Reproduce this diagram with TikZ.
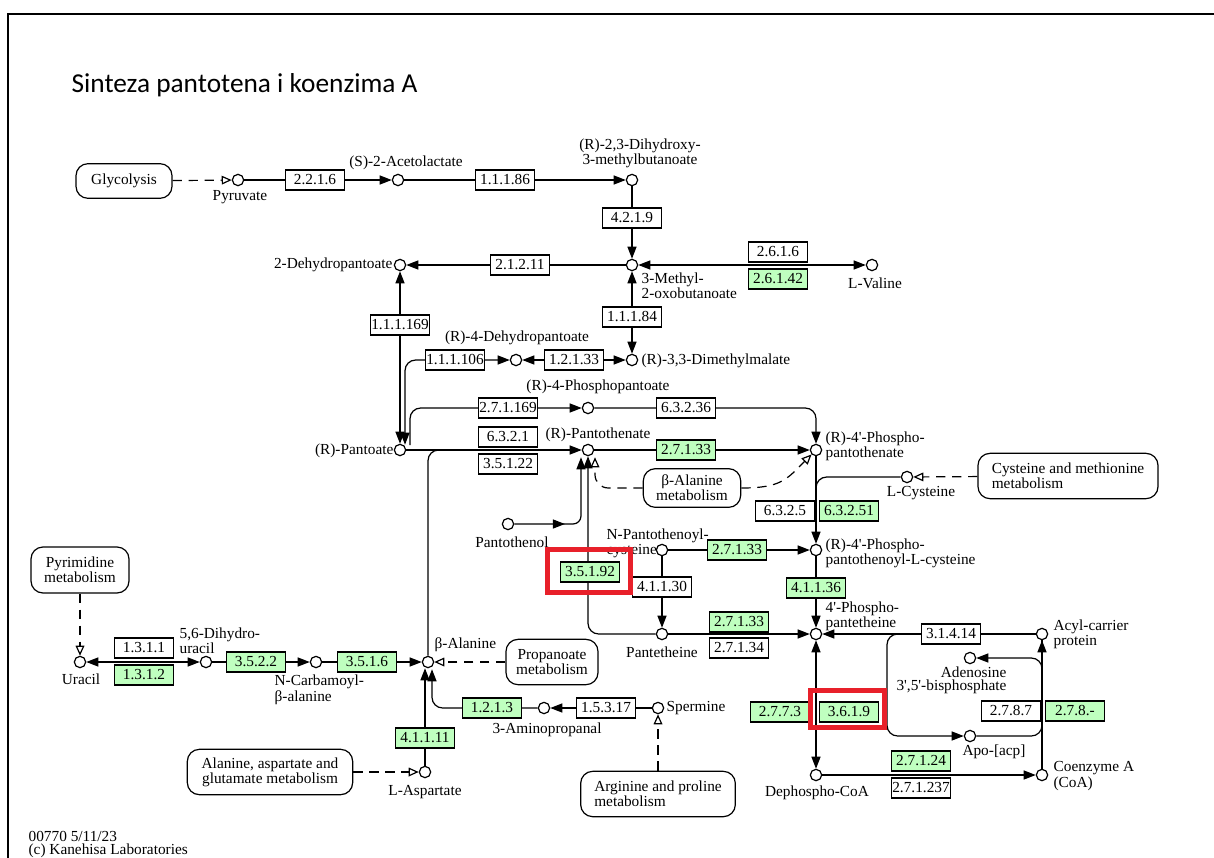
\documentclass[tikz,border=0pt]{standalone}
\usepackage{fontspec}
\setmainfont{Liberation Serif}
\newfontfamily\titlefont{Carlito}
\usepackage{xcolor}
\usepackage{tikz}
\usetikzlibrary{
	arrows.meta,calc,decorations.markings
}
\definecolor{enzgreen}{HTML}{BFFFBF}
\definecolor{hlred}{HTML}{E8202A}
\newcommand{\ap}{\textquotesingle}
\tikzset{
	kt/.tip={Triangle[length=9pt,width=6.75pt]},
	ko/.tip={Triangle[open,length=7.5pt,width=6.5pt]},
	cpd/.style={circle,draw,fill=white,minimum size=8.5pt,inner sep=0pt},
	enz/.style={draw,fill=white,minimum width=44pt,minimum height=15pt,inner sep=0pt},
	enzg/.style={enz,fill=enzgreen},
	mapbox/.style={draw,rounded corners=9pt,align=center,inner sep=0pt},
	lbl/.style={inner sep=0pt,align=center},
	arr/.style={-kt},
	barr/.style={kt-kt},
	dsh/.style={dash pattern=on 7pt off 5pt,-ko},
	hl/.style={draw=hlred,line width=3.75pt}
}

\begin{document}
\begin{tikzpicture}[x=0.75pt,y=-0.75pt,line width=0.9pt,font=\fontsize{11.5}{9.8}\selectfont]
	\useasboundingbox (0,0) rectangle (1214,857);
	\draw[line width=0.9pt] (8,14) rectangle (1240,880);
	\node[anchor=west,inner sep=0pt,font=\titlefont\fontsize{20.5}{24}\selectfont] (Title) at (71,85) {Sinteza pantotena i koenzima A};
	%
	\node[cpd] (Pyr) at (238,180) {};
	\node[cpd] (Acl) at (398,180) {};
	\node[cpd] (Dhmb) at (632,180) {};
	\node[cpd] (Mob) at (632,265) {};
	\node[cpd] (Val) at (872,265) {};
	\node[cpd] (Dhp) at (400,265) {};
	\node[cpd] (Dmm) at (632,360) {};
	\node[cpd] (Dhp4) at (516,360) {};
	\node[cpd] (Ppt) at (588,408) {};
	\node[cpd] (Pant) at (400,450) {};
	\node[cpd] (Pan) at (588,450) {};
	\node[cpd] (Ppan) at (816,450) {};
	\node[cpd] (Cys) at (907,477) {};
	\node[cpd] (Ptol) at (508,524) {};
	\node[cpd] (Npc) at (662,550) {};
	\node[cpd] (Pppc) at (816,550) {};
	\node[cpd] (Ptth) at (662,634) {};
	\node[cpd] (Pptth) at (816,634) {};
	\node[cpd] (Acp) at (1042,634) {};
	\node[cpd] (Pap) at (970,658) {};
	\node[cpd] (Apo) at (970,736) {};
	\node[cpd] (Dpc) at (816,775) {};
	\node[cpd] (CoA) at (1042,775) {};
	\node[cpd] (Ura) at (80,662) {};
	\node[cpd] (Dhu) at (206,662) {};
	\node[cpd] (Ncb) at (316,662) {};
	\node[cpd] (Bala) at (428,662) {};
	\node[cpd] (Amp) at (544,708) {};
	\node[cpd] (Spm) at (658,708) {};
	\node[cpd] (Asp) at (425,772) {};
	%
	\node[mapbox,minimum width=72pt,minimum height=26pt] (Glyc) at (124,181) {Glycolysis};
	\node[mapbox,minimum width=73pt,minimum height=29pt] (BalaM) at (692,488) {β-Alanine\\metabolism};
	\node[mapbox,align=left,minimum width=135pt,minimum height=34pt] (CysM) at (1068,476) {Cysteine and methionine\\metabolism};
	\node[mapbox,minimum width=73.5pt,minimum height=34.5pt] (PyrM) at (80,570) {Pyrimidine\\metabolism};
	\node[mapbox,minimum width=69pt,minimum height=34pt] (PropM) at (552,662) {Propanoate\\metabolism};
	\node[mapbox,minimum width=124pt,minimum height=34pt] (AlaM) at (270,772) {Alanine, aspartate and\\glutamate metabolism};
	\node[mapbox,align=left,minimum width=116pt,minimum height=34pt] (ArgM) at (658,794) {Arginine and proline\\metabolism};
	%
	\draw [dsh] (Glyc) -- (Pyr);
	\draw [arr] (Pyr) -- (Acl);
	\draw [arr] (Acl) -- (Dhmb);
	\draw [arr] (Dhmb) -- (Mob);
	\draw [arr] (Mob) -- (Dhp);
	\draw [barr] (Mob) -- (Val);
	\draw [barr] (Dmm) -- (Mob);
	\draw [barr] (Dhp) -- (Pant);
	\draw [barr,rounded corners=8pt] (Dhp4) -| ($(Pant.north)+(5,1)$);
	\draw [barr] (Dmm) -- (Dhp4);
	\draw [arr,rounded corners=8pt] ($(Pant)+(10,-5)$) |- (Ppt);
	\draw [arr,rounded corners=8pt] (Ppt) -| (Ppan);
	\draw [arr] (Pant) -- (Pan);
	\draw [arr] (Pan) -- (Ppan);
	\draw [rounded corners=8pt] (Bala) |- ($(Pant)+(42,0)$);
	\draw [arr,rounded corners=6pt,postaction={decorate},
		decoration={markings,mark=at position 38pt with {\arrow{kt}}}] (Ptol) -| ($(Pan.south)+(-7,1)$);
	\draw [arr,rounded corners=8pt] (Ptth) -| (Pan);
	\draw [dsh,rounded corners=10pt] (BalaM) -| ($(Pan.south)+(7,1)$);
	\draw [dsh] (BalaM.east) .. controls ($(BalaM.east)+(40,0)$) and ($(Ppan.225)+(-25,25)$) .. (Ppan.225);
	\draw [arr] (Ppan) -- (Pppc);
	\draw [rounded corners=8pt] (Cys) -| ($(Ppan)+(0,45)$);
	\draw [dsh] (CysM) -- (Cys);
	\draw [arr] (Npc) -- (Pppc);
	\draw [arr] (Npc) -- (Ptth);
	\draw [arr] (Pppc) -- (Pptth);
	\draw [arr] (Ptth) -- (Pptth);
	\draw [arr] (Acp) -- (Pptth);
	\draw [arr,rounded corners=8pt] ($(Acp)+(-140,0)$) -| ($(Acp)+(-155,50)$) |- (Apo);
	\draw [arr,rounded corners=8pt] (Apo) -| (Acp);
	\draw [arr,rounded corners=8pt] ($(Acp)+(0,45)$) |- (Pap);
	\draw (CoA) -- (Acp);
	\draw [barr] (Pptth) -- (Dpc);
	\draw [arr] (Dpc) -- (CoA);
	\draw [barr] (Dhu) -- (Ura);
	\draw [arr] (Dhu) -- (Ncb);
	\draw [arr] (Ncb) -- (Bala);
	\draw [dsh] (PropM) -- (Bala);
	\draw [dsh] (PyrM) -- (Ura);
	\draw [arr] (Asp) -- ($(Bala.south)+(-3,0)$);
	\draw [arr,rounded corners=8pt] (Amp) -| ($(Bala.south)+(4,1)$);
	\draw [arr] (Spm) -- (Amp);
	\draw [dsh] (ArgM) -- (Spm);
	\draw [dsh] (AlaM) -- (Asp);
	%
	\node[enz] (E2216) at (315,180) {2.2.1.6};
	\node[enz] (E11186) at (505,180) {1.1.1.86};
	\node[enz] (E4219) at (632,218) {4.2.1.9};
	\node[enz] (E21211) at (520,265) {2.1.2.11};
	\node[enz] (E2616) at (778,252) {2.6.1.6};
	\node[enzg] (E26142) at (778,279) {2.6.1.42};
	\node[enz] (E111169) at (400,325) {1.1.1.169};
	\node[enz] (E11184) at (632,317) {1.1.1.84};
	\node[enz] (E111106) at (455,360) {1.1.1.106};
	\node[enz] (E12133) at (574,360) {1.2.1.33};
	\node[enz] (E271169) at (508,408) {2.7.1.169};
	\node[enz] (E63236) at (686,408) {6.3.2.36};
	\node[enz] (E6321) at (508,437) {6.3.2.1};
	\node[enz] (E35122) at (508,464) {3.5.1.22};
	\node[enzg] (E27133a) at (686,450) {2.7.1.33};
	\node[enz] (E6325) at (785,511) {6.3.2.5};
	\node[enzg] (E63251) at (849,511) {6.3.2.51};
	\node[enzg] (E27133b) at (737,550) {2.7.1.33};
	\node[enzg] (E35192) at (590,572) {3.5.1.92};
	\node[enz] (E41130) at (662,587) {4.1.1.30};
	\node[enzg] (E41136) at (816,588) {4.1.1.36};
	\node[enzg] (E27133c) at (739,622) {2.7.1.33};
	\node[enz] (E27134) at (739,648) {2.7.1.34};
	\node[enz] (E31414) at (951,634) {3.1.4.14};
	\node[enz] (E2787) at (1011,711) {2.7.8.7};
	\node[enzg] (E278x) at (1075,711) {2.7.8.-};
	\node[enzg] (E2773) at (780,712) {2.7.7.3};
	\node[enzg] (E3619) at (849,712) {3.6.1.9};
	\node[enzg] (E27124) at (921,761) {2.7.1.24};
	\node[enz] (E271237) at (921,788) {2.7.1.237};
	\node[enz] (E1311) at (144,648) {1.3.1.1};
	\node[enzg] (E1312) at (144,675) {1.3.1.2};
	\node[enzg] (E3522) at (256,662) {3.5.2.2};
	\node[enzg] (E3516) at (367,662) {3.5.1.6};
	\node[enzg] (E1213) at (492,708) {1.2.1.3};
	\node[enz] (E15317) at (606,708) {1.5.3.17};
	\node[enzg] (E41111) at (425,738) {4.1.1.11};
	%
	\node[lbl] (lPyr) at (240,197) {Pyruvate};
	\node[lbl] (lAcl) at (406,163) {(S)-2-Acetolactate};
	\node[lbl] (lDhmb) at (640,153) {(R)-2,3-Dihydroxy-\\3-methylbutanoate};
	\node[lbl,anchor=west,align=left] (lMob) at (641,286) {3-Methyl-\\2-oxobutanoate};
	\node[lbl] (lVal) at (875,283) {L-Valine};
	\node[lbl,anchor=east] (lDhp) at (393,265) {2-Dehydropantoate};
	\node[lbl,anchor=west] (lDmm) at (641,361) {(R)-3,3-Dimethylmalate};
	\node[lbl] (lDhp4) at (517,338) {(R)-4-Dehydropantoate};
	\node[lbl] (lPpt) at (598,387) {(R)-4-Phosphopantoate};
	\node[lbl,anchor=east] (lPant) at (394,451) {(R)-Pantoate};
	\node[lbl] (lPan) at (598,435) {(R)-Pantothenate};
	\node[lbl,anchor=west,align=left] (lPpan) at (825,446) {(R)-4\ap-Phospho-\\pantothenate};
	\node[lbl] (lCys) at (921,493) {L-Cysteine};
	\node[lbl] (lPtol) at (512,542) {Pantothenol};
	\node[lbl,anchor=west,align=left] (lNpc) at (606,543) {N-Pantothenoyl-\\cysteine};
	\node[lbl] (lPtth) at (662,652) {Pantetheine};
	\node[lbl,anchor=west,align=left] (lPppc) at (825,553) {(R)-4\ap-Phospho-\\pantothenoyl-L-cysteine};
	\node[lbl,anchor=west,align=left] (lPptth) at (825,616) {4\ap-Phospho-\\pantetheine};
	\node[lbl,anchor=west,align=left] (lAcp) at (1053,634) {Acyl-carrier\\protein};
	\node[lbl,anchor=east,align=right] (lPap) at (1007,680) {Adenosine\\3\ap,5\ap-bisphosphate};
	\node[lbl] (lApo) at (994,752) {Apo-[acp]};
	\node[lbl] (lDpc) at (817,793) {Dephospho-CoA};
	\node[lbl,anchor=west,align=left] (lCoA) at (1053,776) {Coenzyme A\\(CoA)};
	\node[lbl] (lUra) at (81,679) {Uracil};
	\node[lbl,anchor=west,align=left] (lDhu) at (179,641) {5,6-Dihydro-\\uracil};
	\node[lbl,anchor=west,align=left] (lNcb) at (274,690) {N-Carbamoyl-\\β-alanine};
	\node[lbl,anchor=west] (lBala) at (434,645) {β-Alanine};
	\node[lbl] (lAmp) at (547,730) {3-Aminopropanal};
	\node[lbl,anchor=west] (lSpm) at (666,708) {Spermine};
	\node[lbl] (lAsp) at (425,792) {L-Aspartate};
	%
	\node[lbl,anchor=north west,align=left] (Foot) at (28,831) {00770 5/11/23\\(c) Kanehisa Laboratories};
	%
	\draw[hl] (547.5,549.5) rectangle (630.5,592.5);
	\draw[hl] (810.5,690.5) rectangle (884.5,727.5);
\end{tikzpicture}
\end{document}
